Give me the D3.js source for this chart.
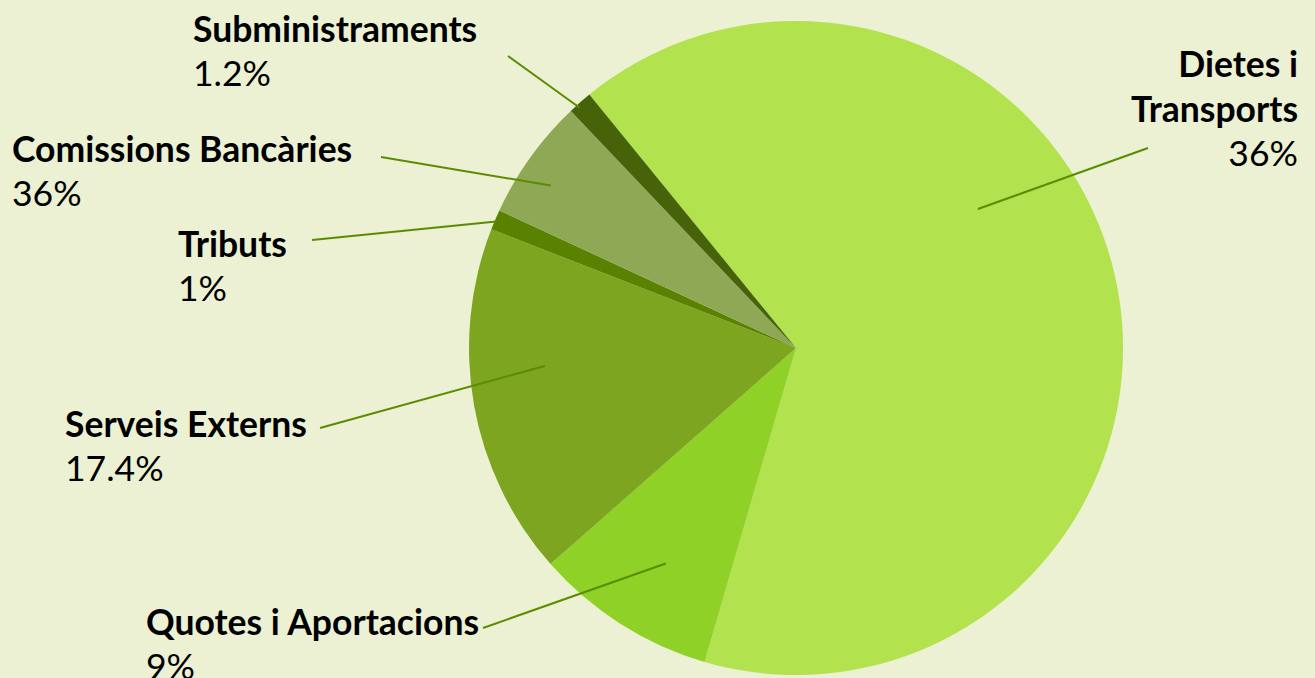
<!DOCTYPE html>
<html>
<head>
<meta charset="utf-8">
<script src="https://cdn.jsdelivr.net/npm/d3@7"></script>
<style>
    body { margin: 0; background: #ebf1d2; }
    text { font-family: "Lato", "Noto Sans", sans-serif; fill: #000; }
    .name { font-weight: bold; font-size: 35.5px; }
    .pct { font-size: 35.5px; }
    .leader { stroke: #5b8c00; stroke-width: 2; fill: none; }
</style>
</head>
<body>
<svg id="chart"></svg>
<script>
"use strict";

// slice order, clockwise from the top-left edge of the big slice
var categories = ["Dietes i Transports", "Quotes i Aportacions", "Serveis Externs",
    "Tributs", "Comissions Bancàries", "Subministraments"];
// share of the circle
var values = [65.4, 9, 17.4, 1, 6, 1.2];
// percentages as printed on the labels
var pct_labels = ["36%", "9%", "17.4%", "1%", "36%", "1.2%"];
var colors = ["#b3e24f", "#8fd126", "#7da520", "#5a8200", "#8ea855", "#47630a"];

var width = 1315, height = 678;
var cx = 796, cy = 348, radius = 327;

// label layout: anchor point, text lines, leader line start,
// and where the leader ends inside the slice (angle fraction, radius fraction)
var label_layout = [
    { x: 1298, y: 77, anchor: "end", lines: ["Dietes i", "Transports"], lead: [1148, 148], lead_t: 0.39, lead_r: 0.70 },
    { x: 146, y: 635, anchor: "start", lines: ["Quotes i Aportacions"], lead: [483, 628], lead_t: 0.46, lead_r: 0.77 },
    { x: 65, y: 437, anchor: "start", lines: ["Serveis Externs"], lead: [320, 428], lead_t: 0.595, lead_r: 0.77 },
    { x: 178, y: 257, anchor: "start", lines: ["Tributs"], lead: [312, 240], lead_t: 0.45, lead_r: 0.995 },
    { x: 12, y: 162, anchor: "start", lines: ["Comissions Bancàries"], lead: [381, 157], lead_t: 0.40, lead_r: 0.90 },
    { x: 193, y: 42, anchor: "start", lines: ["Subministraments"], lead: [508, 56], lead_t: 0.35, lead_r: 0.99 }
];

var svg = d3.select("#chart")
    .attr("width", width)
    .attr("height", height);

svg.append("rect")
    .attr("width", width)
    .attr("height", height)
    .attr("fill", "#ebf1d2");

var start = -39.2 * Math.PI / 180;
var pie = d3.pie()
    .sort(null)
    .startAngle(start)
    .endAngle(start + 2 * Math.PI);

var arcs = pie(values);
var arc = d3.arc().innerRadius(0).outerRadius(radius);

var g = svg.append("g")
    .attr("transform", "translate(" + cx + "," + cy + ")");

g.selectAll("path.slice")
    .data(arcs)
    .enter().append("path")
    .attr("class", "slice")
    .attr("d", arc)
    .attr("fill", function (d, i) { return colors[i]; });

function lead_end(d, i) {
    var lab = label_layout[i];
    var a = d.startAngle + (d.endAngle - d.startAngle) * lab.lead_t;
    return [cx + Math.sin(a) * radius * lab.lead_r, cy - Math.cos(a) * radius * lab.lead_r];
}

// leader lines from the label to a point inside the slice
svg.selectAll("line.leader")
    .data(arcs)
    .enter().append("line")
    .attr("class", "leader")
    .attr("x1", function (d, i) { return label_layout[i].lead[0]; })
    .attr("y1", function (d, i) { return label_layout[i].lead[1]; })
    .attr("x2", function (d, i) { return lead_end(d, i)[0]; })
    .attr("y2", function (d, i) { return lead_end(d, i)[1]; });

var line_h = 44;
label_layout.forEach(function (lab, i) {
    var t = svg.append("text")
        .attr("x", lab.x)
        .attr("y", lab.y)
        .attr("text-anchor", lab.anchor);
    lab.lines.forEach(function (s, j) {
        t.append("tspan")
            .attr("class", "name")
            .attr("x", lab.x)
            .attr("dy", j === 0 ? 0 : 45)
            .text(s);
    });
    t.append("tspan")
        .attr("class", "pct")
        .attr("x", lab.x)
        .attr("dy", line_h)
        .text(pct_labels[i]);
});
</script>
</body>
</html>
